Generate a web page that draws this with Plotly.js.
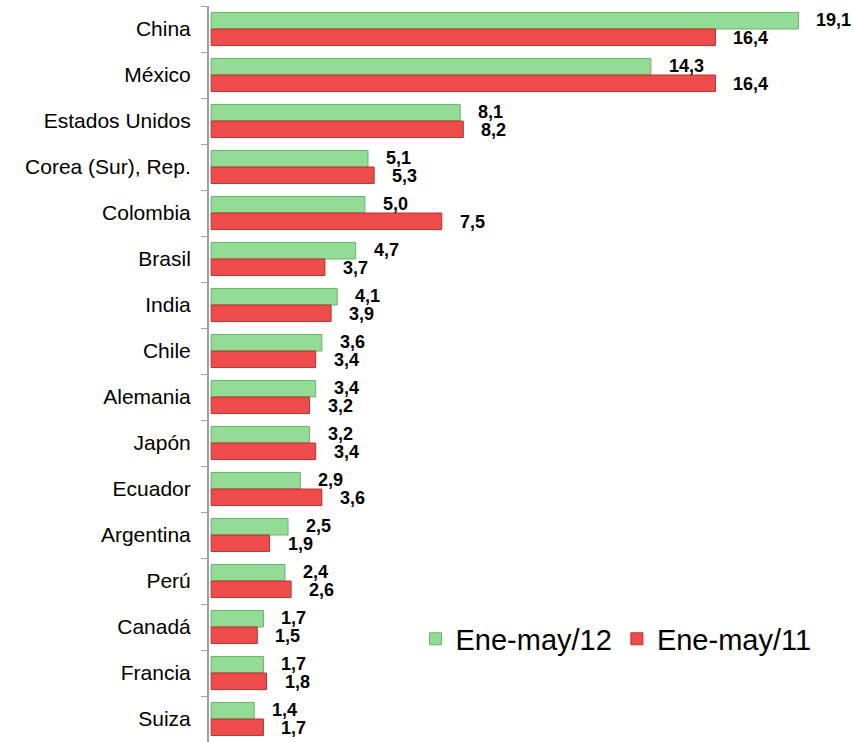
<!DOCTYPE html>
<html>
<head>
<meta charset="utf-8">
<script src="https://cdn.plot.ly/plotly-3.0.1.min.js"></script>
<style>html,body{margin:0;padding:0;background:#fff;}#chart{width:854px;height:742px;}</style>
</head>
<body>
<div id="chart"></div>
<script>
const categories = ["China","México","Estados Unidos","Corea (Sur), Rep.","Colombia","Brasil","India","Chile","Alemania","Japón","Ecuador","Argentina","Perú","Canadá","Francia","Suiza"];
const series12 = [19.1,14.3,8.1,5.1,5.0,4.7,4.1,3.6,3.4,3.2,2.9,2.5,2.4,1.7,1.7,1.4];
const series11 = [16.4,16.4,8.2,5.3,7.5,3.7,3.9,3.4,3.2,3.4,3.6,1.9,2.6,1.5,1.8,1.7];
const name12 = "Ene-may/12";
const name11 = "Ene-may/11";

const fmt = v => v.toFixed(1).replace('.', ',');

const traces = [
  {type:'bar', orientation:'h', name:name12, y:categories, x:series12,
   marker:{color:'#93dc96', line:{color:'#6fae72', width:1}}, hoverinfo:'none'},
  {type:'bar', orientation:'h', name:name11, y:categories, x:series11,
   marker:{color:'#ee4b4b', line:{color:'#b53434', width:1}}, hoverinfo:'none'}
];

const annotations = [];
categories.forEach((c, i) => {
  annotations.push({x:series12[i], y:c, xref:'x', yref:'y', text:fmt(series12[i]), showarrow:false,
    xanchor:'left', yanchor:'middle', xshift:16, yshift:9,
    font:{family:'Liberation Sans, Arial, sans-serif', size:18, color:'#000', weight:'bold'}});
  annotations.push({x:series11[i], y:c, xref:'x', yref:'y', text:fmt(series11[i]), showarrow:false,
    xanchor:'left', yanchor:'middle', xshift:16, yshift:-9,
    font:{family:'Liberation Sans, Arial, sans-serif', size:18, color:'#000', weight:'bold'}});
});

const layout = {
  width:854, height:742,
  margin:{l:209, r:34, t:6, b:0, pad:0},
  paper_bgcolor:'#fff', plot_bgcolor:'#fff',
  barmode:'group', bargap:0.28, bargroupgap:0,
  showlegend:true,
  legend:{orientation:'h', x:0.338, y:0.14, xanchor:'left', yanchor:'middle',
    font:{family:'Liberation Sans, Arial, sans-serif', size:29, color:'#000'},
    bgcolor:'rgba(0,0,0,0)', traceorder:'normal', itemclick:false},
  xaxis:{range:[-0.07, 19.8], visible:false, fixedrange:true},
  yaxis:{type:'category', autorange:'reversed', showline:true, linecolor:'#a0a0a0', linewidth:2,
    ticks:'outside', tickson:'boundaries', ticklen:6, tickcolor:'#a0a0a0', tickwidth:1,
    showgrid:false, zeroline:false, ticklabelstandoff:12,
    tickfont:{family:'Liberation Sans, Arial, sans-serif', size:21, color:'#000'}},
  annotations:annotations,
  font:{family:'Liberation Sans, Arial, sans-serif'}
};

Plotly.newPlot('chart', traces, layout, {displayModeBar:false, staticPlot:true});
</script>
</body>
</html>
